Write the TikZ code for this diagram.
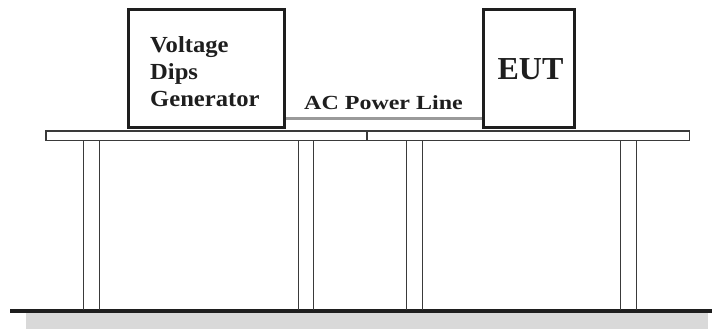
\documentclass[tikz,border=0pt]{standalone}
\usepackage{fontspec}
\setmainfont{Liberation Serif}
\newfontfamily\genfont[FakeStretch=1.07]{Liberation Serif}
\newfontfamily\acfont[FakeStretch=1.2]{Liberation Serif}
\newfontfamily\eutfont[FakeStretch=1.0]{Liberation Serif}
\definecolor{ink}{HTML}{1E1E1E}
\definecolor{legc}{HTML}{3A3A3A}
\definecolor{cable}{HTML}{9A9A9A}
\definecolor{floorc}{HTML}{D9D9D9}
\tikzset{
  device/.style={draw=ink, line width=3pt, fill=white, inner sep=0pt},
  tabletop/.style={draw=legc, line width=1.5pt, fill=white},
  legline/.style={draw=legc, line width=1.5pt},
  powerline/.style={draw=cable, line width=3pt},
  lbl/.style={text=ink, inner sep=0pt, font=\bfseries}
}
\begin{document}
\begin{tikzpicture}[x=1pt,y=-1pt]
\useasboundingbox (0,0) rectangle (712,329);
% floor
\fill[floorc] (26,313) rectangle (708,329);
\draw[ink, line width=4pt] (10,311) -- (712,311);
% tables
\draw[tabletop] (45.75,130.75) rectangle (367,140.25);
\draw[tabletop] (367,130.75) rectangle (689.25,140.25);
% legs
\foreach \lx in {83.5,99.5,298.5,313.5,406.5,422.5,620.5,636.5}
  \draw[legline] (\lx,141) -- (\lx,309.5);
% devices
\node[device, minimum width=156pt, minimum height=118pt] (gen) at (206.5,68.5) {};
\node[device, minimum width=91pt, minimum height=118pt] (eut) at (529,68.5) {};
% power line
\draw[powerline] ([yshift=11pt]gen.south east) -- ([yshift=11pt]eut.south west);
% labels
\node[lbl, anchor=base west, align=left, font=\genfont\bfseries\fontsize{23}{27}\selectfont] (gentxt) at (150,106) {Voltage\\Dips\\Generator};
\node[lbl, anchor=base, font=\acfont\bfseries\fontsize{20}{24}\selectfont] (actxt) at (383.5,110) {AC Power Line};
\node[lbl, anchor=base, font=\eutfont\bfseries\fontsize{32}{36}\selectfont] (euttxt) at (530.5,80) {EUT};
\end{tikzpicture}
\end{document}
